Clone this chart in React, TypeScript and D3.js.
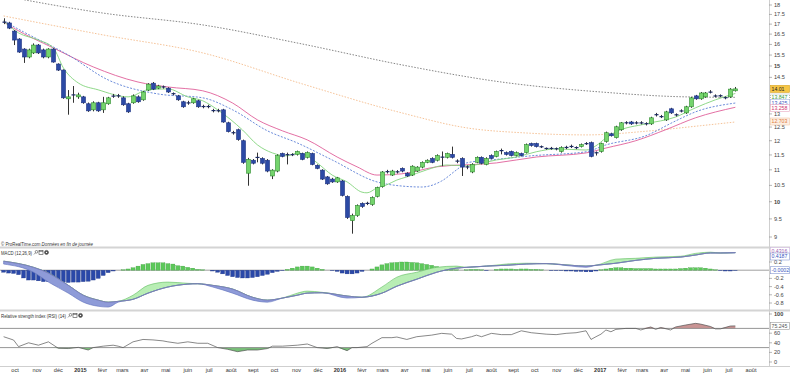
import React from 'react';
import * as d3 from 'd3';

const W = 790;
const H = 373;

// weekly candles [open, high, low, close], first week = 15 sept 2014
const firstWeek = Date.UTC(2014, 8, 15);
const ohlc: [number, number, number, number][] = [
  [17.12, 17.30, 17.00, 17.08], [17.06, 17.12, 16.75, 16.80], [16.65, 16.70, 15.97, 16.21], [16.26, 16.30, 15.60, 15.64],
  [15.78, 15.82, 15.14, 15.41], [15.41, 15.80, 15.35, 15.74], [15.60, 16.05, 15.55, 15.97], [15.97, 16.02, 15.55, 15.60],
  [15.74, 15.80, 15.35, 15.41], [15.41, 15.82, 15.35, 15.78], [15.78, 15.82, 15.15, 15.18], [15.09, 15.12, 14.78, 14.82],
  [14.82, 14.85, 13.60, 13.64], [13.60, 13.96, 12.97, 13.68], [13.74, 14.13, 13.44, 13.78], [13.68, 13.85, 13.60, 13.76],
  [13.68, 13.72, 13.40, 13.44], [13.40, 13.45, 13.08, 13.12], [13.16, 13.50, 13.10, 13.44], [13.44, 13.48, 13.08, 13.12],
  [13.16, 13.68, 13.04, 13.44], [13.40, 13.68, 13.36, 13.64], [13.70, 13.80, 13.64, 13.72], [13.74, 13.80, 13.64, 13.70],
  [13.64, 13.70, 13.32, 13.36], [13.40, 13.44, 13.04, 13.08], [13.44, 13.78, 13.40, 13.72], [13.68, 13.74, 13.44, 13.48],
  [13.56, 13.92, 13.52, 13.88], [13.96, 14.25, 13.92, 14.21], [14.25, 14.30, 13.96, 14.00], [14.04, 14.18, 14.00, 14.13],
  [14.10, 14.15, 14.02, 14.08], [14.04, 14.08, 13.84, 13.88], [13.82, 13.86, 13.74, 13.80], [13.72, 13.76, 13.52, 13.56],
  [13.48, 13.52, 13.24, 13.28], [13.42, 13.52, 13.36, 13.45], [13.44, 13.64, 13.40, 13.60], [13.52, 13.56, 13.24, 13.28],
  [13.30, 13.36, 13.22, 13.28], [13.28, 13.36, 13.22, 13.30], [13.14, 13.20, 13.06, 13.12], [13.12, 13.20, 13.06, 13.13],
  [13.16, 13.20, 12.66, 12.69], [12.66, 12.70, 12.30, 12.33], [12.30, 12.36, 12.22, 12.28], [12.40, 12.44, 12.00, 12.04],
  [12.00, 12.04, 11.20, 11.25], [10.89, 11.40, 10.49, 11.35], [11.32, 11.36, 11.18, 11.22], [11.40, 11.58, 11.25, 11.43],
  [11.38, 11.42, 11.18, 11.22], [11.32, 11.36, 10.92, 10.96], [10.80, 11.02, 10.70, 10.99], [10.96, 11.52, 10.92, 11.48],
  [11.55, 11.58, 11.42, 11.45], [11.50, 11.58, 11.18, 11.52], [11.52, 11.56, 11.46, 11.50], [11.52, 11.65, 11.48, 11.62],
  [11.55, 11.58, 11.32, 11.35], [11.42, 11.62, 11.38, 11.58], [11.55, 11.58, 11.15, 11.18], [11.15, 11.18, 11.02, 11.05],
  [10.99, 11.02, 10.67, 10.70], [10.77, 10.80, 10.52, 10.55], [10.70, 10.74, 10.58, 10.61], [10.61, 10.77, 10.58, 10.74],
  [10.64, 10.67, 10.16, 10.19], [10.16, 10.19, 9.50, 9.54], [9.45, 9.65, 9.09, 9.60], [9.60, 9.92, 9.56, 9.89],
  [9.95, 9.98, 9.82, 9.86], [9.94, 10.00, 9.90, 9.96], [9.92, 10.16, 9.88, 10.13], [10.16, 10.46, 10.13, 10.43],
  [10.46, 10.96, 10.43, 10.93], [10.93, 11.00, 10.88, 10.95], [10.83, 11.00, 10.80, 10.96], [10.93, 10.99, 10.88, 10.94],
  [11.05, 11.08, 10.92, 10.96], [10.89, 10.92, 10.77, 10.80], [10.83, 11.15, 10.80, 11.12], [10.96, 11.12, 10.93, 11.09],
  [11.09, 11.28, 11.05, 11.25], [11.25, 11.35, 11.22, 11.32], [11.38, 11.42, 11.22, 11.25], [11.32, 11.52, 11.28, 11.48],
  [11.42, 11.62, 11.12, 11.43], [11.42, 11.58, 11.38, 11.55], [11.52, 11.79, 11.38, 11.42], [11.28, 11.35, 11.22, 11.30],
  [11.38, 11.42, 10.80, 11.09], [11.09, 11.15, 11.02, 11.10], [10.93, 11.22, 10.89, 11.18], [11.25, 11.45, 11.22, 11.42],
  [11.42, 11.45, 11.18, 11.22], [11.18, 11.42, 11.15, 11.38], [11.48, 11.52, 11.35, 11.38], [11.45, 11.65, 11.42, 11.62],
  [11.64, 11.72, 11.52, 11.66], [11.58, 11.62, 11.48, 11.52], [11.62, 11.65, 11.45, 11.48], [11.48, 11.62, 11.45, 11.58],
  [11.55, 11.58, 11.45, 11.48], [11.58, 11.90, 11.55, 11.86], [11.90, 11.93, 11.79, 11.83], [11.90, 11.93, 11.76, 11.79],
  [11.79, 11.83, 11.74, 11.78], [11.73, 11.76, 11.68, 11.72], [11.72, 11.78, 11.68, 11.73], [11.72, 11.76, 11.66, 11.71],
  [11.62, 11.80, 11.58, 11.76], [11.75, 11.82, 11.70, 11.77], [11.79, 11.86, 11.74, 11.80], [11.76, 11.80, 11.70, 11.75],
  [11.79, 11.90, 11.76, 11.86], [11.89, 11.95, 11.85, 11.90], [11.93, 11.97, 11.42, 11.45], [11.57, 11.62, 11.48, 11.58],
  [11.62, 11.93, 11.58, 11.90], [11.97, 12.33, 11.93, 12.29], [12.25, 12.29, 12.15, 12.18], [12.11, 12.55, 12.08, 12.51],
  [12.40, 12.69, 12.36, 12.66], [12.65, 12.72, 12.60, 12.67], [12.69, 12.73, 12.58, 12.62], [12.65, 12.72, 12.60, 12.66],
  [12.66, 12.72, 12.60, 12.65], [12.62, 12.68, 12.56, 12.63], [12.62, 12.89, 12.58, 12.85], [12.96, 13.04, 12.90, 12.98],
  [12.89, 12.96, 12.84, 12.90], [12.77, 13.12, 12.73, 13.08], [13.20, 13.24, 13.00, 13.04], [12.97, 13.02, 12.90, 12.96],
  [13.11, 13.18, 13.06, 13.12], [13.04, 13.32, 13.00, 13.28], [13.28, 13.68, 13.24, 13.64], [13.72, 13.76, 13.56, 13.60],
  [13.60, 13.88, 13.56, 13.84], [13.68, 13.88, 13.64, 13.84], [13.87, 13.96, 13.82, 13.88], [13.72, 13.78, 13.66, 13.71],
  [13.72, 13.78, 13.66, 13.73], [13.65, 13.70, 13.58, 13.64], [13.68, 14.04, 13.64, 14.00], [13.93, 14.09, 13.90, 14.01],
];

// moving averages: [week index, value]
const maShort: [number, number][] = [
  [0, 17.15], [3, 16.56], [7, 16.21], [10, 15.83], [12, 14.92], [15, 14.26], [19, 13.97], [25, 13.68], [29, 13.97],
  [33, 14.01], [37, 13.68], [40, 13.52], [43, 13.16], [48, 12.39], [51, 11.85], [54, 11.57], [57, 11.47], [59, 11.57],
  [61, 11.47], [63, 11.23], [66, 10.83], [69, 10.61], [72, 10.29], [73, 10.27], [75, 10.42], [77, 10.52], [79, 10.67],
  [81, 10.77], [85, 11.0], [89, 11.16], [93, 11.13], [99, 11.33], [103, 11.43], [107, 11.61], [111, 11.71], [117, 11.67],
  [119, 11.82], [121, 12.1], [123, 12.32], [129, 12.62], [135, 12.88], [139, 13.24], [143, 13.56], [147, 13.82],
];
const maMid: [number, number][] = [
  [0, 17.16], [4, 16.61], [13, 15.5], [21, 14.39], [31, 13.8], [40, 13.64], [46, 13.16], [53, 12.36], [59, 11.92],
  [66, 11.33], [75, 10.61], [80, 10.48], [84, 10.45], [88, 10.64], [91, 11.0], [93, 11.23], [98, 11.33], [106, 11.47],
  [117, 11.61], [121, 11.85], [129, 12.18], [135, 12.73], [139, 13.08], [147, 13.43],
];
const maPink: [number, number][] = [
  [0, 17.11], [2, 16.8], [10, 15.83], [18, 14.96], [27, 14.3], [33, 14.09], [40, 13.93], [46, 13.43], [51, 12.77],
  [56, 12.36], [61, 12.03], [67, 11.43], [71, 11.1], [75, 10.83], [80, 10.87], [87, 11.1], [99, 11.23], [107, 11.43],
  [117, 11.57], [121, 11.74], [127, 12.0], [133, 12.4], [139, 12.85], [147, 13.26],
];
const maLong: [number, number][] = [
  [0, 17.42], [20, 16.46], [40, 15.6], [60, 14.22], [80, 13.04], [93, 12.47], [105, 12.28], [117, 12.21], [130, 12.36],
  [140, 12.55], [147, 12.69],
];
const maVeryLong: [number, number][] = [
  [0, 18.49], [20, 17.57], [40, 16.96], [60, 16.02], [80, 15.05], [100, 14.3], [120, 13.88], [137, 13.68], [147, 13.66],
];

// MACD (12,26,9)
const macdIdx = [0, 6, 9, 13, 16, 19, 21, 23, 26, 29, 33, 37, 39, 42, 46, 50, 53, 56, 59, 61, 64, 69, 72, 76, 79, 83, 87, 91,
  93, 97, 101, 105, 109, 114, 117, 119, 123, 127, 131, 136, 139, 142, 144, 147];
const macdLine = [0.15, -0.05, -0.29, -0.56, -0.78, -0.88, -0.9, -0.78, -0.61, -0.37, -0.29, -0.32, -0.33, -0.41, -0.56,
  -0.73, -0.78, -0.68, -0.56, -0.51, -0.54, -0.68, -0.66, -0.41, -0.17, -0.05, 0.07, 0.1, 0.07, 0.1, 0.15, 0.17, 0.16, 0.1,
  0.07, 0.12, 0.27, 0.29, 0.32, 0.34, 0.41, 0.44, 0.42, 0.42];
const macdSignal = [0.22, 0.07, -0.07, -0.37, -0.61, -0.73, -0.78, -0.76, -0.71, -0.56, -0.41, -0.34, -0.33, -0.37, -0.46,
  -0.66, -0.73, -0.68, -0.61, -0.56, -0.55, -0.63, -0.66, -0.56, -0.39, -0.22, -0.05, 0.05, 0.07, 0.1, 0.12, 0.15, 0.16,
  0.12, 0.1, 0.12, 0.17, 0.24, 0.29, 0.32, 0.37, 0.42, 0.42, 0.43];
const macdHist = [
  -0.05, -0.07, -0.08, -0.11, -0.19, -0.24, -0.24, -0.26, -0.28, -0.28, -0.29, -0.29, -0.3, -0.3, -0.29, -0.29, -0.28, -0.27,
  -0.24, -0.2, -0.13, -0.06, -0.02, 0, 0.01, 0.03, 0.06, 0.1, 0.14, 0.16, 0.18, 0.18, 0.18, 0.16, 0.15, 0.11, 0.1, 0.07,
  0.05, 0.02, 0.01, 0, -0.02, -0.05, -0.09, -0.13, -0.16, -0.18, -0.19, -0.19, -0.18, -0.16, -0.13, -0.1, -0.06, -0.03,
  -0.01, 0.02, 0.05, 0.08, 0.1, 0.1, 0.08, 0.05, 0.02, 0, -0.01, -0.03, -0.07, -0.09, -0.09, -0.07, -0.03, 0, 0.03, 0.08,
  0.13, 0.16, 0.18, 0.19, 0.2, 0.2, 0.19, 0.18, 0.16, 0.14, 0.12, 0.09, 0.06, 0.04, 0.02, 0.01, 0, 0.01, 0.02, 0.02, 0.01,
  -0.01, 0, 0.02, 0.03, 0.03, 0.03, 0.02, 0.03, 0.03, 0.02, 0.02, 0.01, 0, -0.01, -0.01, -0.01, -0.02, -0.02, -0.03, -0.03,
  -0.04, -0.04, -0.02, 0.01, 0.03, 0.05, 0.06, 0.06, 0.05, 0.05, 0.04, 0.04, 0.04, 0.04, 0.03, 0.03, 0.03, 0.03, 0.03, 0.04,
  0.05, 0.06, 0.06, 0.06, 0.05, 0.03, 0.01, -0.01, -0.02, -0.02, -0.01,
];

// RSI (14): [week index, value]
const rsi: [number, number][] = [
  [0, 52.7], [2, 45.8], [3, 32], [5, 40], [7, 35], [9, 42], [11, 28.5], [13, 28], [15, 30.5], [17, 25], [18, 30], [20, 33],
  [22, 35], [23, 33], [24, 30], [26, 42], [28, 47], [30, 46], [32, 44], [33, 42], [35, 39], [37, 42], [39, 39], [41, 39],
  [43, 30], [45, 26.4], [47, 21.5], [49, 25], [51, 25], [53, 28], [54, 33], [56, 33], [59, 35], [61, 37.5], [63, 30],
  [65, 28], [67, 32], [69, 23.6], [70, 30], [71, 30], [73, 32], [74, 39], [76, 50.7], [78, 50.7], [79, 52], [81, 47],
  [83, 52.7], [86, 56], [88, 59.7], [90, 58], [91, 49], [92, 48], [94, 52.7], [95, 56], [96, 52.7], [98, 59.7], [100, 57],
  [102, 57], [104, 65], [106, 61], [109, 58], [111, 57], [113, 59.7], [115, 61], [117, 65], [118, 47], [119, 52.7],
  [120, 58], [121, 66.7], [122, 63], [123, 68], [125, 70], [127, 70], [128, 66.7], [130, 73], [131, 68], [132, 72],
  [134, 66.7], [135, 73], [137, 77], [139, 80.5], [140, 79], [142, 74], [143, 69], [144, 69], [146, 75], [147, 75.245],
];

const priceTicks = [18, 17.5, 17, 16.5, 16, 15.5, 15, 14.5, 13, 12.5, 12, 11.5, 11, 10.5, 10, 9.5, 9];
const macdTicks = [0.2, -0.2, -0.4, -0.6, -0.8];
const rsiTicks = [100, 60, 40, 20, 0];
const monthLabels = ['oct', 'nov', 'déc', '2015', 'févr', 'mars', 'avr', 'mai', 'juin', 'juil', 'août', 'sept', 'oct', 'nov',
  'déc', '2016', 'févr', 'mars', 'avr', 'mai', 'juin', 'juil', 'août', 'sept', 'oct', 'nov', 'déc', '2017', 'févr', 'mars',
  'avr', 'mai', 'juin', 'juil', 'août'];

const AXIS_X = 769;
const FONT = 'Arial, "Liberation Sans", sans-serif';

// little wrench / window / gear icons after a panel title
const PanelIcons = ({ x0, cy }: { x0: number; cy: number }) => (
  <g stroke="#444" strokeWidth={0.6} fill="none">
    <circle cx={x0 + 2.5} cy={cy - 0.8} r={1.3} />
    <line x1={x0 + 1.6} y1={cy + 0.2} x2={x0} y2={cy + 1.8} />
    <rect x={x0 + 5} y={cy - 2.2} width={4} height={4} />
    <line x1={x0 + 5} x2={x0 + 9} y1={cy - 1.2} y2={cy - 1.2} />
    <circle cx={x0 + 12.5} cy={cy - 0.2} r={2} fill="#555" />
    <circle cx={x0 + 12.5} cy={cy - 0.2} r={0.7} fill="#fff" stroke="none" />
  </g>
);

export default function App() {
  const x = d3.scaleUtc()
    .domain([new Date(Date.UTC(2014, 9, 1)), new Date(Date.UTC(2017, 7, 1))])
    .range([15, 751]);
  const xi = (i: number) => x(d3.utcDay.offset(new Date(firstWeek), i * 7));
  const y = d3.scaleLog().domain([9, 18]).range([237, 5]);
  const ym = d3.scaleLinear().domain([-0.8, 0.2]).range([303, 262]);
  const yr = d3.scaleLinear().domain([0, 100]).range([362, 314]);

  const maPath = (pts: [number, number][]) =>
    d3.line<[number, number]>().x(d => xi(d[0])).y(d => y(d[1])).curve(d3.curveMonotoneX)(pts) || '';

  const macdRows = macdIdx.map((i, k) => ({ i, m: macdLine[k], s: macdSignal[k] }));
  const bandUp = d3.area<any>().x(d => xi(d.i)).y0(d => ym(d.s)).y1(d => ym(Math.max(d.m, d.s))).curve(d3.curveMonotoneX)(macdRows) || '';
  const bandDn = d3.area<any>().x(d => xi(d.i)).y0(d => ym(d.s)).y1(d => ym(Math.min(d.m, d.s))).curve(d3.curveMonotoneX)(macdRows) || '';
  const sigPath = d3.line<any>().x(d => xi(d.i)).y(d => ym(d.s)).curve(d3.curveMonotoneX)(macdRows) || '';

  const rsiLine = d3.line<[number, number]>().x(d => xi(d[0])).y(d => yr(d[1]))(rsi) || '';
  const rsiHigh = d3.area<[number, number]>().x(d => xi(d[0])).y0(yr(70)).y1(d => yr(Math.max(d[1], 70)))(rsi) || '';
  const rsiLow = d3.area<[number, number]>().x(d => xi(d[0])).y0(yr(30)).y1(d => yr(Math.min(d[1], 30)))(rsi) || '';

  const months = d3.utcMonth.range(new Date(Date.UTC(2014, 9, 1)), new Date(Date.UTC(2017, 7, 2)));

  const valueBox = (yy: number, text: string, color: string, fill: string, border: string, dashed = false) => (
    <g key={text}>
      <rect x={770.5} y={yy - 3.5} width={19} height={7} fill={fill} stroke={border} strokeWidth={0.6}
        strokeDasharray={dashed ? '1,1' : undefined} />
      <text x={771.5} y={yy + 1.9} fontSize={5.2} fill={color}>{text}</text>
    </g>
  );

  return (
    <svg width={W} height={H} style={{ position: 'absolute', left: 0, top: 0, background: '#fff' }} fontFamily={FONT}>
      <defs>
        <clipPath id="cp"><rect x={0} y={0} width={AXIS_X} height={246} /></clipPath>
        <clipPath id="cm"><rect x={0} y={249} width={AXIS_X} height={61} /></clipPath>
        <clipPath id="cr"><rect x={0} y={312} width={AXIS_X} height={54} /></clipPath>
      </defs>
      <rect width={W} height={H} fill="#fff" />

      {/* price panel */}
      <g clipPath="url(#cp)">
        <path d={maPath(maVeryLong)} fill="none" stroke="#666" strokeWidth={0.8} strokeDasharray="1.5,1.5" />
        <path d={maPath(maLong)} fill="none" stroke="#f2b27c" strokeWidth={0.8} strokeDasharray="1.5,1.5" />
        <path d={maPath(maPink)} fill="none" stroke="#e0609a" strokeWidth={0.9} />
        <path d={maPath(maMid)} fill="none" stroke="#5b7fd6" strokeWidth={0.9} strokeDasharray="2,1.5" />
        <path d={maPath(maShort)} fill="none" stroke="#82d47c" strokeWidth={0.9} />
        {ohlc.map(([o, h, l, c], i) => {
          const cx = Math.round(xi(i)) + 0.5;
          const up = c >= o;
          const top = y(Math.max(o, c));
          const bot = y(Math.min(o, c));
          const doji = bot - top < 1.5;
          return (
            <g key={i}>
              <line x1={cx} x2={cx} y1={y(h)} y2={y(l)} stroke="#333" strokeWidth={1} />
              {doji ? (
                <line x1={cx - 2} x2={cx + 2} y1={(top + bot) / 2} y2={(top + bot) / 2} stroke="#1a2a66" strokeWidth={1.2} />
              ) : (
                <rect x={cx - 2} y={top} width={4} height={bot - top}
                  fill={up ? '#74d46c' : '#2c4aa5'} stroke={up ? '#2f8a2f' : '#1d3383'} strokeWidth={0.6} />
              )}
            </g>
          );
        })}
      </g>

      {/* MACD panel */}
      <g clipPath="url(#cm)">
        <line x1={0} x2={AXIS_X} y1={ym(0)} y2={ym(0)} stroke="#888" strokeWidth={0.8} />
        {macdHist.map((v, i) => {
          const cx = xi(i);
          const y0 = ym(0);
          const y1 = ym(v);
          if (Math.abs(y1 - y0) < 0.3) return null;
          return (
            <rect key={i} x={cx - 2} y={Math.min(y0, y1)} width={4} height={Math.abs(y1 - y0)}
              fill={v >= 0 ? '#5cc85a' : '#2a48a8'} stroke={v >= 0 ? '#3a9a3a' : '#1d3383'} strokeWidth={0.3} />
          );
        })}
        <path d={bandUp} fill="#b8eeb4" stroke="#62bc62" strokeWidth={0.6} />
        <path d={bandDn} fill="#8e9bd8" stroke="#6070bc" strokeWidth={0.6} />
        <path d={sigPath} fill="none" stroke="#8a78b8" strokeWidth={0.5} />
      </g>

      {/* RSI panel */}
      <g clipPath="url(#cr)">
        <path d={rsiHigh} fill="#c99494" />
        <path d={rsiLow} fill="#78c078" />
        <line x1={0} x2={AXIS_X} y1={yr(70)} y2={yr(70)} stroke="#8a8a8a" strokeWidth={0.9} />
        <line x1={0} x2={AXIS_X} y1={yr(30)} y2={yr(30)} stroke="#8a8a8a" strokeWidth={0.9} />
        <path d={rsiLine} fill="none" stroke="#555" strokeWidth={0.7} />
      </g>

      {/* separators and right axis */}
      <line x1={0} x2={W} y1={247.5} y2={247.5} stroke="#d4d4d4" strokeWidth={2} />
      <line x1={0} x2={W} y1={310.5} y2={310.5} stroke="#d4d4d4" strokeWidth={2} />
      <line x1={0} x2={W} y1={366.5} y2={366.5} stroke="#cfcfcf" strokeWidth={1} />
      <line x1={AXIS_X + 0.5} x2={AXIS_X + 0.5} y1={0} y2={366} stroke="#cfcfcf" strokeWidth={1} />

      {/* headers */}
      <text x={1} y={246} fontSize={4.8} fill="#333" textLength={92} lengthAdjust="spacingAndGlyphs">
        © ProRealTime.com <tspan fontStyle="italic">Données en fin de journée</tspan>
      </text>
      <text x={1} y={254.5} fontSize={5} fill="#333" textLength={31} lengthAdjust="spacingAndGlyphs">MACD (12,26,9)</text>
      <PanelIcons x0={34} cy={252.6} />
      <text x={1} y={317.5} fontSize={5} fill="#333" textLength={65} lengthAdjust="spacingAndGlyphs">Relative strength index (RSI) (14)</text>
      <PanelIcons x0={68} cy={315.6} />

      {/* price axis */}
      {priceTicks.map(t => (
        <g key={'p' + t}>
          <line x1={AXIS_X} x2={AXIS_X + 3} y1={y(t)} y2={y(t)} stroke="#888" strokeWidth={0.6} />
          <text x={774} y={y(t) + 2} fontSize={5.6} fill="#444" fontWeight={t % 5 === 0 ? 'bold' : 'normal'}>{t}</text>
        </g>
      ))}
      {valueBox(y(14.01), '14.01', '#222', '#f6c646', '#d9a520')}
      {valueBox(97.5, '13.847', '#3a9a3a', '#fff', '#888', true)}
      {valueBox(103, '13.425', '#3a56c0', '#fff', '#a8b4e0')}
      {valueBox(108, '13.258', '#d0306a', '#fff', '#e8a8c0')}
      {valueBox(121.5, '12.703', '#e07a3a', '#fdf0e4', '#f0c8a8')}

      {/* MACD axis */}
      {macdTicks.map(t => (
        <g key={'m' + t}>
          <line x1={AXIS_X} x2={AXIS_X + 3} y1={ym(t)} y2={ym(t)} stroke="#888" strokeWidth={0.6} />
          <text x={774} y={ym(t) + 2} fontSize={5.6} fill="#444">{t}</text>
        </g>
      ))}
      {valueBox(251, '0.4316', '#9a60b0', '#fff', '#d0b8e0')}
      {valueBox(256.5, '0.4187', '#3a56c0', '#fff', '#8898d0')}
      {valueBox(ym(0), '-0.0002', '#3a56c0', '#fff', '#8898d0')}

      {/* RSI axis */}
      {rsiTicks.map(t => (
        <g key={'r' + t}>
          <line x1={AXIS_X} x2={AXIS_X + 3} y1={yr(t)} y2={yr(t)} stroke="#888" strokeWidth={0.6} />
          <text x={774} y={yr(t) + 2} fontSize={5.6} fill="#444" fontWeight={t === 100 ? 'bold' : 'normal'}>{t}</text>
        </g>
      ))}
      {valueBox(yr(75.245), '75.245', '#555', '#fff', '#999')}

      {/* time axis */}
      {months.map((m, k) => (
        <text key={'t' + k} x={x(m)} y={371.5} fontSize={5.6} textAnchor="middle" fill="#333"
          fontWeight={/^\d+$/.test(monthLabels[k]) ? 'bold' : 'normal'}>{monthLabels[k]}</text>
      ))}
    </svg>
  );
}
